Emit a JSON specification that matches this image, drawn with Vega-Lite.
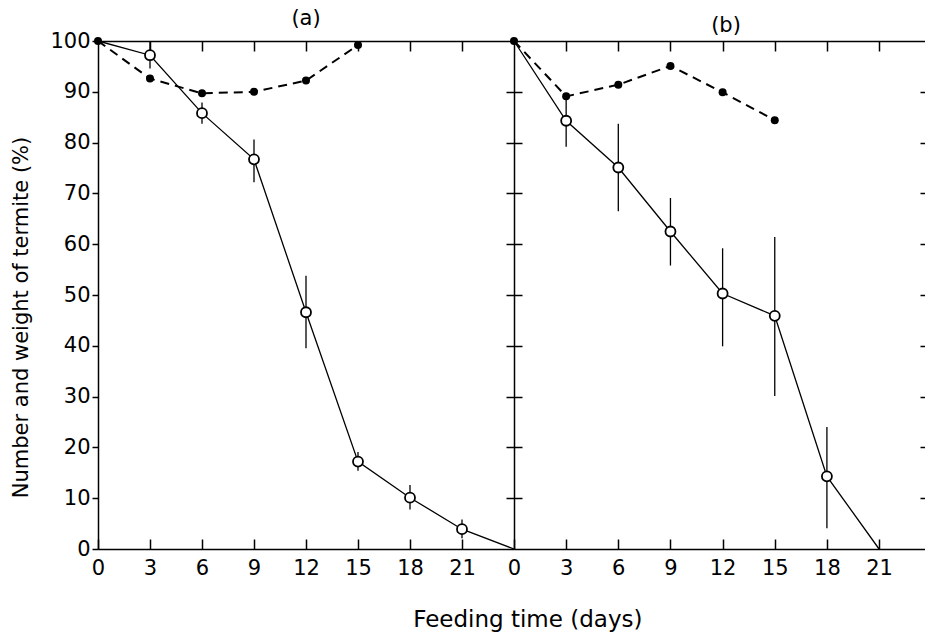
{
  "$schema": "https://vega.github.io/schema/vega-lite/v6.json",
  "background": "white",
  "padding": {"left": 10, "top": 8, "right": 0, "bottom": 0},
  "autosize": {"type": "pad"},
  "datasets": {
    "pts": [
      {"panel": "a", "series": "filled", "day": 0, "pct": 100},
      {"panel": "a", "series": "filled", "day": 3, "pct": 92.6},
      {"panel": "a", "series": "filled", "day": 6, "pct": 89.7},
      {"panel": "a", "series": "filled", "day": 9, "pct": 90.0},
      {"panel": "a", "series": "filled", "day": 12, "pct": 92.2},
      {"panel": "a", "series": "filled", "day": 15, "pct": 99.2},
      {"panel": "a", "series": "open", "day": 0, "pct": 100},
      {"panel": "a", "series": "open", "day": 3, "pct": 97.2, "lo": 94.6, "hi": 99.8},
      {"panel": "a", "series": "open", "day": 6, "pct": 85.8, "lo": 83.7, "hi": 87.9},
      {"panel": "a", "series": "open", "day": 9, "pct": 76.7, "lo": 72.2, "hi": 80.6},
      {"panel": "a", "series": "open", "day": 12, "pct": 46.6, "lo": 39.5, "hi": 53.8},
      {"panel": "a", "series": "open", "day": 15, "pct": 17.2, "lo": 15.4, "hi": 19.1},
      {"panel": "a", "series": "open", "day": 18, "pct": 10.1, "lo": 7.8, "hi": 12.6},
      {"panel": "a", "series": "open", "day": 21, "pct": 3.9, "lo": 2.1, "hi": 5.8},
      {"panel": "a", "series": "open", "day": 24, "pct": 0},
      {"panel": "b", "series": "filled", "day": 0, "pct": 100},
      {"panel": "b", "series": "filled", "day": 3, "pct": 89.1},
      {"panel": "b", "series": "filled", "day": 6, "pct": 91.4},
      {"panel": "b", "series": "filled", "day": 9, "pct": 95.1},
      {"panel": "b", "series": "filled", "day": 12, "pct": 89.9},
      {"panel": "b", "series": "filled", "day": 15, "pct": 84.4},
      {"panel": "b", "series": "open", "day": 0, "pct": 100},
      {"panel": "b", "series": "open", "day": 3, "pct": 84.3, "lo": 79.2, "hi": 89.1},
      {"panel": "b", "series": "open", "day": 6, "pct": 75.1, "lo": 66.5, "hi": 83.7},
      {"panel": "b", "series": "open", "day": 9, "pct": 62.5, "lo": 55.8, "hi": 69.1},
      {"panel": "b", "series": "open", "day": 12, "pct": 50.3, "lo": 39.9, "hi": 59.2},
      {"panel": "b", "series": "open", "day": 15, "pct": 45.9, "lo": 30.1, "hi": 61.4},
      {"panel": "b", "series": "open", "day": 18, "pct": 14.3, "lo": 4.1, "hi": 24.0},
      {"panel": "b", "series": "open", "day": 21, "pct": 0}
    ]
  },
  "data": {"name": "pts"},
  "title": {"text": "Feeding time  (days)", "orient": "bottom", "anchor": "middle", "fontSize": 23, "fontWeight": "normal", "font": "DejaVu Sans", "color": "black", "offset": 31, "dx": 59},
  "spacing": 0,
  "bounds": "flush",
  "hconcat": [
    {
      "width": 416,
      "height": 508,
      "title": {"text": "(a)", "fontSize": 21, "fontWeight": "normal", "font": "DejaVu Sans", "color": "black", "offset": 1, "anchor": "middle"},
      "transform": [{"filter": "datum.panel == 'a'"}],
      "resolve": {"axis": {"x": "independent", "y": "independent"}},
      "layer": [
        {
          "transform": [{"filter": "datum.series == 'filled'"}],
          "mark": {"type": "line", "strokeDash": [9, 6], "strokeWidth": 2, "color": "black"},
          "encoding": {
            "x": {"field": "day", "type": "quantitative", "scale": {"domain": [0, 24], "nice": false, "zero": false},
              "axis": {"orient": "bottom", "values": [0, 3, 6, 9, 12, 15, 18, 21], "tickSize": -10, "labelPadding": 18, "labelFontSize": 21, "title": null, "labelFlush": false, "labelOverlap": false}},
            "y": {"field": "pct", "type": "quantitative", "scale": {"domain": [0, 100], "nice": false},
              "axis": {"orient": "left", "values": [0, 10, 20, 30, 40, 50, 60, 70, 80, 90, 100], "tickSize": 6, "labelPadding": 2, "labelFontSize": 21, "title": "Number and weight of termite  (%)", "titleFontSize": 21, "titleFontWeight": "normal", "titlePadding": 18, "titleY": 276, "labelFlush": false, "labelOverlap": false}}
          }
        },
        {
          "transform": [{"filter": "datum.series == 'open'"}],
          "mark": {"type": "line", "strokeWidth": 1.3, "color": "black"},
          "encoding": {
            "x": {"field": "day", "type": "quantitative", "scale": {"domain": [0, 24], "nice": false, "zero": false},
              "axis": {"orient": "top", "values": [3, 6, 9, 12, 15, 18, 21], "tickSize": -10, "labels": false, "title": null}},
            "y": {"field": "pct", "type": "quantitative", "scale": {"domain": [0, 100], "nice": false},
              "axis": {"orient": "right", "values": [10, 20, 30, 40, 50, 60, 70, 80, 90], "tickSize": 8, "labels": false, "domain": false, "title": null}}
          }
        },
        {
          "transform": [{"filter": "isValid(datum.lo)"}],
          "mark": {"type": "rule", "strokeWidth": 1.3, "color": "black"},
          "encoding": {
            "x": {"field": "day", "type": "quantitative", "scale": {"domain": [0, 24], "nice": false, "zero": false}, "axis": null},
            "y": {"field": "lo", "type": "quantitative", "scale": {"domain": [0, 100], "nice": false}, "axis": null},
            "y2": {"field": "hi"}
          }
        },
        {
          "transform": [{"filter": "datum.series == 'open' && datum.day > 0 && datum.pct > 0"}],
          "mark": {"type": "point", "shape": "circle", "filled": true, "fill": "white", "stroke": "black", "strokeWidth": 1.8, "size": 100, "opacity": 1},
          "encoding": {
            "x": {"field": "day", "type": "quantitative", "scale": {"domain": [0, 24], "nice": false, "zero": false}, "axis": null},
            "y": {"field": "pct", "type": "quantitative", "scale": {"domain": [0, 100], "nice": false}, "axis": null}
          }
        },
        {
          "transform": [{"filter": "datum.series == 'filled'"}],
          "mark": {"type": "point", "shape": "circle", "filled": true, "color": "black", "size": 64, "opacity": 1},
          "encoding": {
            "x": {"field": "day", "type": "quantitative", "scale": {"domain": [0, 24], "nice": false, "zero": false}, "axis": null},
            "y": {"field": "pct", "type": "quantitative", "scale": {"domain": [0, 100], "nice": false}, "axis": null}
          }
        }
      ]
    },
    {
      "width": 412,
      "height": 508,
      "title": {"text": "(b)", "fontSize": 21, "fontWeight": "normal", "font": "DejaVu Sans", "color": "black", "offset": 1, "anchor": "middle", "dx": 6},
      "transform": [{"filter": "datum.panel == 'b'"}],
      "resolve": {"axis": {"x": "independent", "y": "independent"}},
      "layer": [
        {
          "transform": [{"filter": "datum.series == 'filled'"}],
          "mark": {"type": "line", "strokeDash": [9, 6], "strokeWidth": 2, "color": "black"},
          "encoding": {
            "x": {"field": "day", "type": "quantitative", "scale": {"domain": [0, 23.7], "nice": false, "zero": false},
              "axis": {"orient": "bottom", "values": [0, 3, 6, 9, 12, 15, 18, 21], "tickSize": -10, "labelPadding": 18, "labelFontSize": 21, "title": null, "labelFlush": false, "labelOverlap": false}},
            "y": {"field": "pct", "type": "quantitative", "scale": {"domain": [0, 100], "nice": false},
              "axis": {"orient": "left", "values": [10, 20, 30, 40, 50, 60, 70, 80, 90], "tickSize": 8, "labels": false, "title": null}}
          }
        },
        {
          "transform": [{"filter": "datum.series == 'open'"}],
          "mark": {"type": "line", "strokeWidth": 1.3, "color": "black"},
          "encoding": {
            "x": {"field": "day", "type": "quantitative", "scale": {"domain": [0, 23.7], "nice": false, "zero": false},
              "axis": {"orient": "top", "values": [3, 6, 9, 12, 15, 18, 21], "tickSize": -10, "labels": false, "title": null}},
            "y": {"field": "pct", "type": "quantitative", "scale": {"domain": [0, 100], "nice": false},
              "axis": {"orient": "right", "values": [10, 20, 30, 40, 50, 60, 70, 80, 90], "tickSize": -6, "labels": false, "title": null}}
          }
        },
        {
          "transform": [{"filter": "isValid(datum.lo)"}],
          "mark": {"type": "rule", "strokeWidth": 1.3, "color": "black"},
          "encoding": {
            "x": {"field": "day", "type": "quantitative", "scale": {"domain": [0, 23.7], "nice": false, "zero": false}, "axis": null},
            "y": {"field": "lo", "type": "quantitative", "scale": {"domain": [0, 100], "nice": false}, "axis": null},
            "y2": {"field": "hi"}
          }
        },
        {
          "transform": [{"filter": "datum.series == 'open' && datum.day > 0 && datum.pct > 0"}],
          "mark": {"type": "point", "shape": "circle", "filled": true, "fill": "white", "stroke": "black", "strokeWidth": 1.8, "size": 100, "opacity": 1},
          "encoding": {
            "x": {"field": "day", "type": "quantitative", "scale": {"domain": [0, 23.7], "nice": false, "zero": false}, "axis": null},
            "y": {"field": "pct", "type": "quantitative", "scale": {"domain": [0, 100], "nice": false}, "axis": null}
          }
        },
        {
          "transform": [{"filter": "datum.series == 'filled'"}],
          "mark": {"type": "point", "shape": "circle", "filled": true, "color": "black", "size": 64, "opacity": 1},
          "encoding": {
            "x": {"field": "day", "type": "quantitative", "scale": {"domain": [0, 23.7], "nice": false, "zero": false}, "axis": null},
            "y": {"field": "pct", "type": "quantitative", "scale": {"domain": [0, 100], "nice": false}, "axis": null}
          }
        }
      ]
    }
  ],
  "config": {
    "font": "DejaVu Sans",
    "view": {"stroke": null},
    "axis": {"domainColor": "black", "tickColor": "black", "labelColor": "black", "titleColor": "black", "grid": false, "labelFont": "DejaVu Sans", "titleFont": "DejaVu Sans", "domainWidth": 1.5, "tickWidth": 1.5, "labelFontWeight": "normal"}
  }
}
